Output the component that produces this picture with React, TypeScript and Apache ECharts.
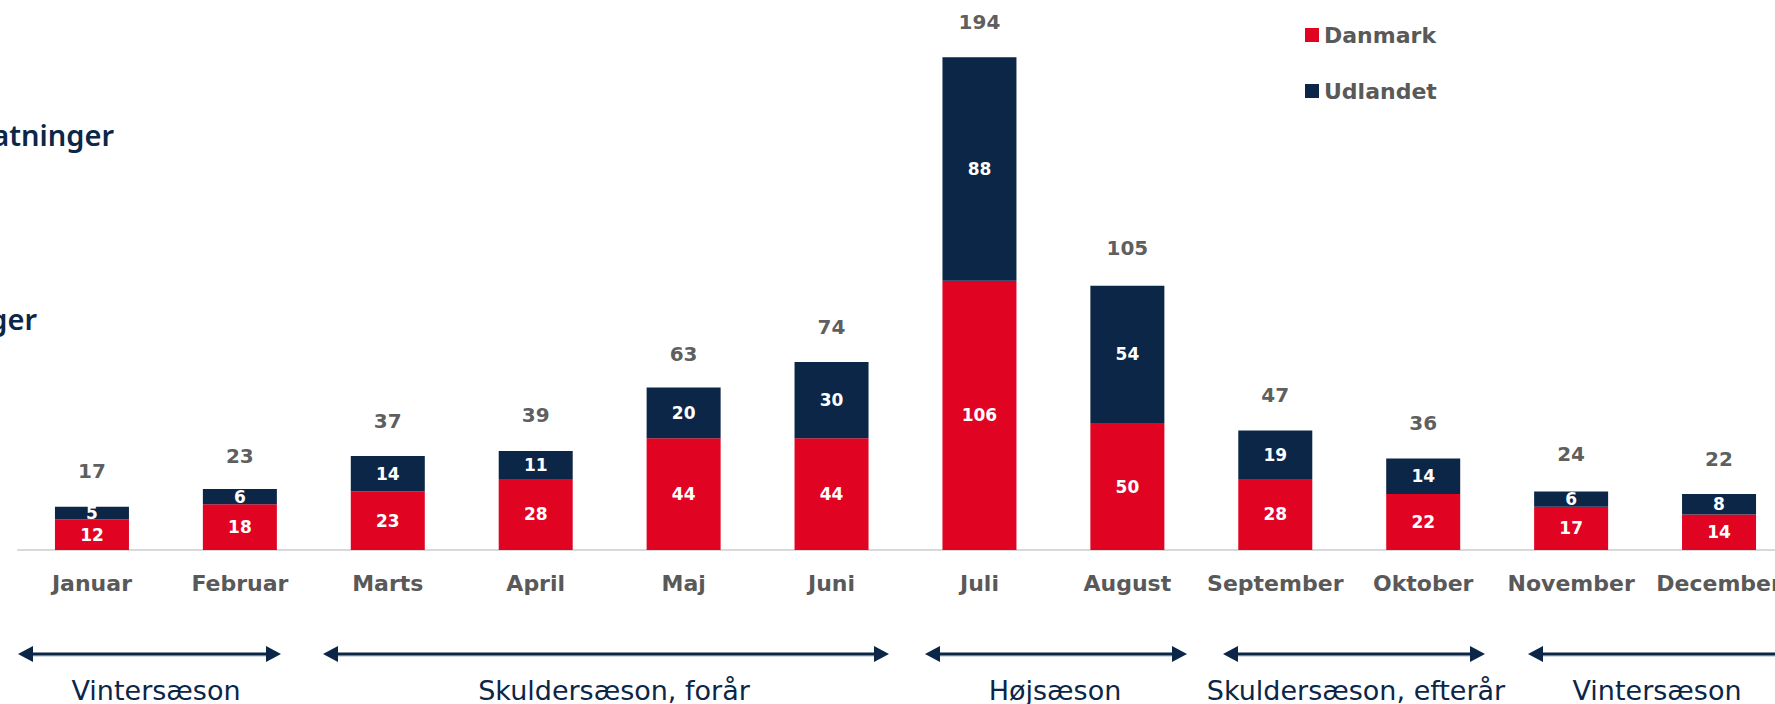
import React, { useEffect, useRef } from "react";
import * as echarts from "echarts";

const months = ["Januar", "Februar", "Marts", "April", "Maj", "Juni", "Juli", "August", "September", "Oktober", "November", "December"];
const danmark = [12, 18, 23, 28, 44, 44, 106, 50, 28, 22, 17, 14];
const udlandet = [5, 6, 14, 11, 20, 30, 88, 54, 19, 14, 6, 8];
const totals = [17, 23, 37, 39, 63, 74, 194, 105, 47, 36, 24, 22];

const seasonNames = ["Vintersæson", "Skuldersæson, forår", "Højsæson", "Skuldersæson, efterår", "Vintersæson"];
const seasonStart = [18, 323, 925, 1223, 1528];
const seasonEnd = [281, 889, 1187, 1485, 1810];
const seasonLabelX = [156, 614, 1055, 1356, 1657];

const sideTitles = ["Antal overnatninger", "Mio. overnatninger"];

const RED = "#E00422";
const NAVY = "#0B2647";
const FONT = "'DejaVu Sans', sans-serif";

export default function App() {
  const ref = useRef<HTMLDivElement>(null);
  useEffect(() => {
    document.body.style.margin = "0";
    document.body.style.overflow = "hidden";
    document.documentElement.style.overflow = "hidden";
    const chart = echarts.init(ref.current!, null, { renderer: "svg" });
    const arrowY = 654;
    const graphics: any[] = [];
    seasonNames.forEach((name, i) => {
      const x1 = seasonStart[i];
      const x2 = seasonEnd[i];
      graphics.push({
        type: "line",
        shape: { x1: x1 + 10, y1: arrowY + 2, x2: x2 - 10, y2: arrowY + 2 },
        style: { stroke: "#A9B8CC", lineWidth: 1 },
      });
      graphics.push({
        type: "line",
        shape: { x1: x1 + 10, y1: arrowY, x2: x2 - 10, y2: arrowY },
        style: { stroke: NAVY, lineWidth: 3 },
      });
      graphics.push({
        type: "polygon",
        shape: { points: [[x1, arrowY], [x1 + 15, arrowY - 8], [x1 + 15, arrowY + 8]] },
        style: { fill: NAVY },
      });
      graphics.push({
        type: "polygon",
        shape: { points: [[x2, arrowY], [x2 - 15, arrowY - 8], [x2 - 15, arrowY + 8]] },
        style: { fill: NAVY },
      });
      graphics.push({
        type: "text",
        x: seasonLabelX[i],
        y: 690,
        style: {
          text: name,
          fill: NAVY,
          font: `27px ${FONT}`,
          textAlign: "center",
          textVerticalAlign: "middle",
        },
      });
    });
    graphics.push({
      type: "text",
      x: 114,
      y: 134,
      style: { text: sideTitles[0], fill: NAVY, font: `600 29px 'Noto Sans', sans-serif`, textAlign: "right", textVerticalAlign: "middle" },
    });
    graphics.push({
      type: "text",
      x: 37,
      y: 318,
      style: { text: sideTitles[1], fill: NAVY, font: `600 29px 'Noto Sans', sans-serif`, textAlign: "right", textVerticalAlign: "middle" },
    });

    const option: any = {
      animation: false,
      textStyle: { fontFamily: FONT },
      grid: { left: 18, top: 42, width: 1775, height: 508, containLabel: false },
      legend: {
        data: ["Danmark", "Udlandet"],
        orient: "vertical",
        left: 1305,
        top: 24,
        padding: 0,
        itemWidth: 14,
        itemHeight: 14,
        itemGap: 34,
        icon: "rect",
        textStyle: { fontFamily: FONT, fontSize: 22, fontWeight: "bold", color: "#595959", lineHeight: 22 },
      },
      xAxis: {
        type: "category",
        data: months,
        axisLine: { show: true, lineStyle: { color: "#D9D9D9", width: 2 } },
        axisTick: { show: false },
        axisLabel: { interval: 0, margin: 22, fontFamily: FONT, fontSize: 22, fontWeight: "bold", color: "#595959" },
      },
      yAxis: {
        type: "value",
        min: 0,
        max: 200,
        show: false,
        splitLine: { show: false },
      },
      series: [
        {
          name: "Danmark",
          type: "bar",
          stack: "t",
          data: danmark,
          barWidth: 74,
          itemStyle: { color: RED },
          label: { show: true, position: "inside", color: "#fff", fontFamily: FONT, fontSize: 17, fontWeight: "bold" },
        },
        {
          name: "Udlandet",
          type: "bar",
          stack: "t",
          data: udlandet,
          barWidth: 74,
          itemStyle: { color: NAVY },
          label: { show: true, position: "inside", color: "#fff", fontFamily: FONT, fontSize: 17, fontWeight: "bold" },
        },
        {
          name: "Total",
          type: "scatter",
          data: totals,
          symbolSize: 1,
          itemStyle: { color: "rgba(0,0,0,0)" },
          label: { show: true, position: "top", distance: 25, color: "#333333", fontFamily: FONT, fontSize: 20, fontWeight: "bold" },
        },
      ],
      graphic: graphics,
    };
    chart.setOption(option);
    return () => chart.dispose();
  }, []);
  return <div ref={ref} style={{ width: 1800, height: 704 }} />;
}
